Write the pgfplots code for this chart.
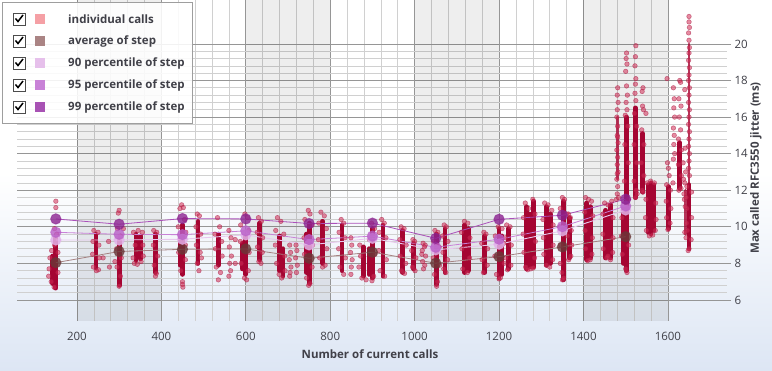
\documentclass[border=0pt]{standalone}
\usepackage{pgfplots}
\pgfplotsset{compat=1.18}
\usepackage{fontspec}
\setmainfont{Open Sans}
\definecolor{core}{RGB}{165,5,50}
\definecolor{dotfill}{RGB}{210,45,85}
\definecolor{dotdraw}{RGB}{170,30,70}
\definecolor{avgc}{RGB}{105,55,55}
\definecolor{avgl}{RGB}{165,130,130}
\definecolor{p90c}{RGB}{226,178,234}
\definecolor{p90l}{RGB}{232,200,238}
\definecolor{p95c}{RGB}{185,95,200}
\definecolor{p95l}{RGB}{200,130,215}
\definecolor{p99c}{RGB}{140,35,145}
\definecolor{p99l}{RGB}{170,80,185}
\definecolor{gridmaj}{RGB}{150,150,150}
\definecolor{gridmin}{RGB}{208,208,208}
\definecolor{txt}{RGB}{64,64,72}
\definecolor{bgblue}{RGB}{221,230,244}
\definecolor{lgind}{RGB}{245,160,165}
\definecolor{lgavg}{RGB}{170,132,132}
\definecolor{lg90}{RGB}{230,192,235}
\definecolor{lg95}{RGB}{200,130,215}
\definecolor{lg99}{RGB}{168,82,180}

\pgfplotstableread{
x p99 p95 p90 avg
150 10.43 9.70 9.28 8.04
300 10.14 9.59 9.28 8.65
450 10.45 9.57 9.32 8.77
600 10.43 9.78 9.56 8.79
750 10.18 9.30 9.01 8.28
900 10.20 9.49 9.37 8.61
1050 9.37 8.88 8.74 8.01
1200 10.41 9.32 9.05 8.37
1350 10.63 10.01 9.78 8.90
1500 11.51 11.14 10.92 9.46
}\steps

\pgfplotstableread{
x y
150 6.65
150 9.4
nan nan
143 6.9
143 8.4
nan nan
245 7.75
245 9.6
nan nan
300 6.8
300 9.3
nan nan
340 8.15
340 9.6
nan nan
350 8.25
350 9.5
nan nan
386 7.5
386 9.6
nan nan
450 7.4
450 10.1
nan nan
444 7.9
444 9.4
nan nan
487 8.0
487 10.3
nan nan
535 7.9
535 9.6
nan nan
600 7.4
600 9.5
nan nan
592 7.7
592 9.1
nan nan
633 8.2
633 10.2
nan nan
680 7.6
680 9.5
nan nan
688 7.3
688 8.8
nan nan
750 6.9
750 10.2
nan nan
743 7.5
743 9.6
nan nan
782 8.0
782 10.3
nan nan
828 7.6
828 10.1
nan nan
878 7.3
878 8.9
nan nan
900 7.2
900 9.9
nan nan
892 7.4
892 8.8
nan nan
925 7.3
925 10.1
nan nan
972 7.5
972 9.8
nan nan
998 7.7
998 9.1
nan nan
1052 6.85
1052 9.6
nan nan
1072 7.5
1072 9.9
nan nan
1118 7.5
1118 10.1
nan nan
1127 7.6
1127 9.9
nan nan
1166 7.5
1166 9.5
nan nan
1200 7.2
1200 9.9
nan nan
1207 7.4
1207 9.5
nan nan
1222 7.7
1222 9.9
nan nan
1265 7.7
1265 11.1
nan nan
1273 7.8
1273 10.7
nan nan
1281 7.8
1281 11.4
nan nan
1312 7.9
1312 11.1
nan nan
1321 8.0
1321 10.7
nan nan
1352 7.1
1352 11.4
nan nan
1366 8.3
1366 10.5
nan nan
1408 8.2
1408 11.3
nan nan
1416 8.3
1416 11.1
nan nan
1452 8.3
1452 10.9
nan nan
1464 8.3
1464 11.2
nan nan
1494 8.0
1494 11.0
nan nan
1502 7.6
1502 16.0
nan nan
1523 11.6
1523 16.5
nan nan
1540 11.9
1540 15.1
nan nan
1553 9.7
1553 12.3
nan nan
1560 9.6
1560 12.4
nan nan
1567 9.8
1567 12.3
nan nan
1602 9.9
1602 12.2
nan nan
1628 12.1
1628 14.6
nan nan
1650 8.8
1650 12.3
}\cores

\pgfplotstableread{
x y
1650 12.4
1650 20.0
nan nan
1480 12.6
1480 16.0
nan nan
1641 9.6
1641 12.0
}\thincores

\begin{document}
\begin{tikzpicture}
\useasboundingbox (0pt,0pt) rectangle (772pt,370pt);
\fill[white] (0pt,0pt) rectangle (772pt,370pt);
\shade[top color=white, bottom color=bgblue] (0pt,0pt) rectangle (772pt,197pt);
\begin{axis}[
  at={(17pt,49pt)}, anchor=south west,
  scale only axis, width=710pt, height=321pt,
  xmin=58, xmax=1740, ymin=4.85, ymax=22.4,
  axis line style={draw=none},
  xtick={200,400,...,1600}, ytick={6,8,...,20},
  minor x tick num=4, minor y tick num=4,
  grid=both,
  major grid style={gridmaj, line width=0.7pt},
  minor grid style={gridmin, line width=0.6pt},
  xtick style={draw=none},
  minor tick style={draw=none},
  ytick style={gridmaj, line width=0.7pt},
  ytick pos=right, yticklabel pos=right,
  tick align=outside, major tick length=4pt,
  tick label style={font=\fontsize{11.5}{13}\selectfont, text=txt},
  xticklabel style={yshift=-4pt},
  /pgf/number format/assume math mode=true,
  /pgf/number format/1000 sep={},
  unbounded coords=jump,
  clip=true,
]
\fill[black, opacity=0.065] (axis cs:200,4.85) rectangle (axis cs:400,22.4);
\fill[black, opacity=0.065] (axis cs:600,4.85) rectangle (axis cs:800,22.4);
\fill[black, opacity=0.065] (axis cs:1000,4.85) rectangle (axis cs:1200,22.4);
\fill[black, opacity=0.065] (axis cs:1400,4.85) rectangle (axis cs:1600,22.4);

\addplot[core, line width=4.8pt, line cap=round] table {\cores};
\addplot[core, line width=2.8pt, line cap=round, opacity=0.8] table {\thincores};

\addplot[only marks, mark=*, mark size=2.3pt,
  mark options={fill=dotfill, fill opacity=0.55, draw=dotdraw, draw opacity=0.6, line width=0.5pt}]
coordinates {
(150,11.4)(150,11.05)(147,9.9)(152,9.6)(140,8.7)(136,8.3)(134,7.7)(133,7.3)(139,7.0)(146,6.7)(155,7.5)(155,8.6)(147,9.0)
(240,9.8)(250,9.7)(238,9.2)(252,9.0)(237,8.5)(253,8.3)(239,7.8)(251,7.65)(246,7.6)(277,7.8)(275,9.2)(262,8.3)
(300,10.9)(298,10.75)(296,9.9)(303,9.5)(294,8.8)(305,8.3)(295,7.8)(303,7.3)(300,6.75)(290,8.1)(310,9.9)
(334,9.7)(345,9.8)(355,9.7)(333,8.3)(336,8.0)(357,8.4)(343,7.95)(352,8.1)(338,9.0)(356,9.0)
(382,9.8)(389,9.7)(381,9.0)(391,8.4)(383,7.9)(388,7.45)(386,7.3)
(448,11.2)(452,11.05)(444,11.0)(455,10.4)(440,10.0)(458,9.7)(441,8.6)(457,8.2)(446,7.6)(450,7.0)(450,6.85)(451,6.7)(457,9.0)
(485,10.7)(490,10.6)(482,10.0)(493,9.6)(483,9.0)(492,8.6)(485,8.0)(489,7.6)(495,8.3)
(533,10.5)(538,10.0)(527,9.6)(543,9.2)(528,8.8)(544,8.4)(530,7.8)(540,7.5)(535,7.1)
(560,9.8)(565,9.4)(561,8.9)(566,8.4)(562,8.0)(564,7.6)(560,7.3)(575,9.3)(575,8.0)
(598,10.7)(604,10.5)(588,10.1)(607,9.8)(587,9.2)(608,8.6)(589,8.0)(606,7.6)(597,7.2)(602,7.1)
(630,10.5)(637,10.3)(627,9.7)(640,9.4)(628,8.9)(639,8.6)(631,8.1)(636,8.0)
(675,10.5)(683,10.3)(671,9.8)(690,9.6)(670,9.0)(692,8.4)(673,8.0)(685,7.2)(679,7.4)(693,7.6)
(704,9.0)(706,8.6)(703,8.2)(707,7.8)(705,7.5)(704,7.3)
(719,9.0)(721,8.7)(718,8.3)(722,7.9)(720,7.5)
(748,10.9)(752,10.7)(740,10.4)(757,10.1)(738,9.4)(758,9.0)(739,8.5)(757,7.8)(744,7.2)(752,6.9)(749,6.8)
(778,10.8)(786,10.6)(773,10.2)(791,9.9)(772,9.3)(792,8.8)(775,8.3)(788,7.9)(782,7.8)
(826,10.4)(832,10.2)(821,9.7)(835,9.4)(820,8.8)(836,8.3)(823,7.8)(832,7.4)
(849,9.4)(851,9.0)(848,8.6)(852,8.2)(850,7.8)(849,7.4)
(898,10.2)(905,9.9)(870,9.0)(872,8.4)(868,7.8)(875,7.2)(885,7.1)(893,9.3)(906,8.5)(903,7.3)(899,7.05)
(922,10.4)(928,10.2)(916,9.7)(932,9.4)(915,8.7)(933,8.2)(918,7.6)(929,7.3)
(968,10.0)(975,9.9)(965,9.3)(980,9.0)(966,8.4)(979,8.0)(969,7.6)(976,7.45)
(996,9.3)(1000,9.2)(993,8.7)(1003,8.3)(995,7.8)(1001,7.6)
(1020,9.1)(1025,9.0)(1018,8.7)(1026,8.4)(1019,8.1)(1024,7.9)(1021,7.7)(1023,8.9)(1017,8.5)
(1048,9.8)(1055,9.7)(1045,9.2)(1058,8.9)(1044,8.3)(1059,7.9)(1047,7.4)(1054,7.0)(1052,6.75)
(1070,10.1)(1075,10.0)(1066,9.5)(1079,9.2)(1067,8.6)(1078,8.2)(1069,7.7)(1074,7.5)
(1118,10.3)(1126,10.2)(1111,9.7)(1131,9.4)(1112,8.8)(1130,8.3)(1114,7.7)(1125,7.5)
(1164,9.7)(1169,9.6)(1159,9.1)(1173,8.8)(1160,8.2)(1172,7.9)(1163,7.5)
(1198,10.0)(1207,9.9)(1191,9.5)(1211,9.1)(1190,8.4)(1212,8.0)(1194,7.4)(1203,7.2)(1200,7.15)
(1218,10.1)(1226,10.0)(1215,9.4)(1229,9.0)(1216,8.3)(1228,7.9)(1220,7.65)
(1262,11.3)(1270,11.0)(1280,11.5)(1258,10.5)(1285,10.7)(1257,9.6)(1286,9.2)(1259,8.6)(1284,8.3)(1263,7.8)(1275,7.7)(1281,7.75)(1268,7.65)
(1308,11.3)(1316,11.2)(1325,10.9)(1304,10.4)(1328,10.1)(1305,9.4)(1328,9.0)(1306,8.5)(1327,8.2)(1312,7.9)(1320,7.8)
(1350,11.6)(1355,11.5)(1345,11.0)(1360,10.7)(1344,10.0)(1346,9.0)(1345,8.0)(1350,7.1)(1353,7.2)(1349,7.5)
(1364,10.7)(1369,10.5)(1371,9.8)(1362,9.5)(1372,9.0)(1370,8.4)(1365,8.2)
(1405,11.6)(1412,11.5)(1419,11.4)(1403,10.8)(1422,10.6)(1404,9.8)(1421,9.4)(1405,8.8)(1420,8.5)(1410,8.15)(1416,8.2)
(1450,11.3)(1458,11.2)(1467,11.4)(1446,10.7)(1470,10.5)(1446,9.6)(1470,9.4)(1447,8.8)(1469,8.6)(1455,8.3)(1464,8.2)(1458,8.4)
(1481,17.6)(1480,17.2)(1482,16.8)(1479,16.0)(1481,15.5)(1480,15.0)(1482,14.6)(1479,14.2)(1481,13.8)(1480,13.4)(1482,13.0)(1479,12.6)(1481,12.2)(1480,11.8)(1478,11.5)(1483,11.6)(1480,12.9)(1481,14.9)(1480,16.4)
(1502,19.5)(1501,19.2)(1503,18.9)(1500,18.5)(1502,17.7)(1504,17.2)(1501,16.8)(1503,16.4)(1499,16.1)(1505,15.5)(1498,14.5)(1506,13.5)(1497,12.5)(1506,11.5)(1491,10.5)(1490,9.5)(1507,9.0)(1492,8.5)(1500,7.7)(1503,7.5)
(1524,19.9)(1523,19.3)(1522,18.8)(1524,18.1)(1523,17.8)(1522,17.3)(1524,16.9)(1521,16.2)(1526,15.5)(1520,14.5)(1526,13.5)(1520,12.5)(1525,12.0)(1523,11.6)(1527,11.8)
(1541,17.6)(1539,17.4)(1540,16.6)(1542,16.4)(1538,15.3)(1543,14.5)(1537,13.5)(1543,12.8)(1539,12.0)(1541,11.9)
(1548,16.2)(1551,12.4)(1559,12.5)(1568,12.4)(1548,11.5)(1571,11.3)(1547,10.5)(1572,10.4)(1549,9.8)(1556,9.5)(1564,9.55)(1570,9.8)
(1598,18.1)(1599,13.5)(1601,13.2)(1603,12.8)(1597,12.3)(1606,12.0)(1596,11.4)(1607,11.0)(1597,10.5)(1605,10.2)(1600,9.85)
(1613,17.6)(1615,17.0)(1614,16.5)(1616,16.0)(1613,15.4)(1615,15.0)(1614,14.5)(1616,14.0)(1613,13.7)(1612,12.4)
(1628,18.0)(1630,17.9)(1626,17.0)(1631,16.6)(1627,16.0)(1630,15.3)(1625,14.8)(1632,14.2)(1625,13.4)(1632,12.8)(1626,12.0)(1631,12.1)(1636,13.5)(1637,12.6)(1638,11.8)(1639,11.5)(1640,17.5)
(1650,21.5)(1650,21.2)(1651,20.9)(1649,20.6)(1650,20.2)(1651,19.8)(1650,19.5)(1649,19.1)(1651,18.7)(1650,18.3)(1649,18.0)(1651,17.6)(1650,17.2)(1649,16.8)(1651,16.4)(1650,16.0)(1649,15.6)(1651,15.2)(1650,14.8)(1649,14.4)(1651,14.0)(1650,13.6)(1649,13.2)(1651,12.8)(1645,12.2)(1656,11.9)(1645,11.0)(1656,10.5)(1646,9.8)(1655,9.3)(1650,8.8)(1648,8.7)
(1641,14.3)(1642,13.0)(1640,12.4)(1643,11.6)(1641,11.1)(1644,10.2)(1640,9.7)(1643,9.4)
};

\addplot[avgl, line width=0.8pt, mark=*, mark size=5.3pt,
  mark options={fill=avgc, fill opacity=0.8, draw=avgc, draw opacity=0.5}] table[x=x,y=avg] {\steps};
\addplot[p90l, line width=0.9pt, mark=*, mark size=5.3pt,
  mark options={fill=p90c, fill opacity=0.85, draw=p90c, draw opacity=0.5}] table[x=x,y=p90] {\steps};
\addplot[p95l, line width=0.8pt, mark=*, mark size=5.3pt,
  mark options={fill=p95c, fill opacity=0.8, draw=p95c, draw opacity=0.5}] table[x=x,y=p95] {\steps};
\addplot[p99l, line width=0.8pt, mark=*, mark size=5.3pt,
  mark options={fill=p99c, fill opacity=0.8, draw=p99c, draw opacity=0.5}] table[x=x,y=p99] {\steps};
\end{axis}

% axis titles
\node[font=\fontsize{11.5}{13}\selectfont\bfseries, text=txt] at (370pt,16pt) {Number of current calls};
\node[font=\fontsize{11.5}{13}\selectfont\bfseries, text=txt, rotate=90] at (756pt,202pt) {Max called RFC3550 jitter (ms)};

% legend
\fill[white, opacity=0.88] (2.5pt,247pt) rectangle (192pt,367.5pt);
\draw[black!38, line width=0.8pt] (2.5pt,247pt) rectangle (192pt,367.5pt);
\foreach \yy/\cc/\tt in {351/lgind/individual calls, 329/lgavg/average of step, 307/lg90/90 percentile of step, 285/lg95/95 percentile of step, 263/lg99/99 percentile of step}{
  \fill[white] (13pt,\yy pt-6pt) rectangle (25pt,\yy pt+6pt);
  \draw[black!70, line width=0.8pt] (13pt,\yy pt-6pt) rectangle (25pt,\yy pt+6pt);
  \draw[black, line width=1.5pt] (15.5pt,\yy pt+0.5pt) -- (18pt,\yy pt-2.5pt) -- (23pt,\yy pt+4pt);
  \fill[\cc] (35pt,\yy pt-5pt) rectangle (45pt,\yy pt+5pt);
  \node[anchor=west, font=\fontsize{11.5}{13}\selectfont\bfseries, text=txt, inner sep=0pt] at (68pt,\yy pt) {\tt};
}
\end{tikzpicture}
\end{document}
